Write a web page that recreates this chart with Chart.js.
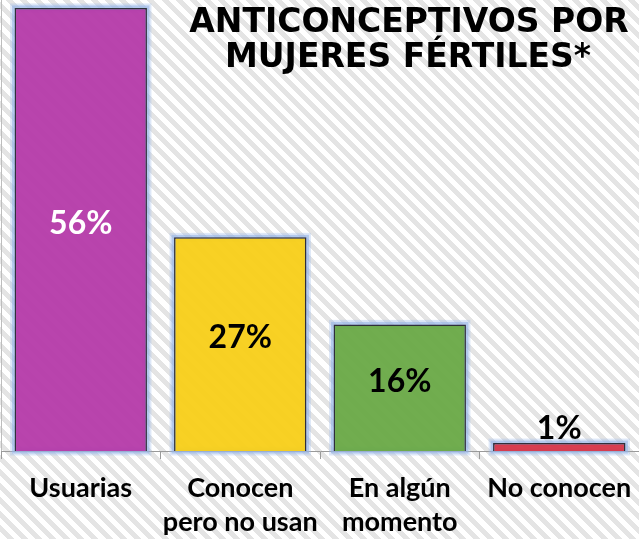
<!DOCTYPE html>
<html>
<head>
<meta charset="utf-8">
<script src="https://cdn.jsdelivr.net/npm/chart.js@4"></script>
<style>
  html, body { margin: 0; padding: 0; }
  body {
    width: 639px; height: 539px; overflow: hidden;
    background: repeating-linear-gradient(45deg, #ffffff 0px, #ffffff 5px, #e4e4e4 5px, #e4e4e4 10px);
  }
  #grafico { display: block; }
</style>
</head>
<body>
<canvas id="grafico" width="639" height="539"></canvas>
<script>
const categorias = ["Usuarias", ["Conocen", "pero no usan"], ["En algún", "momento"], "No conocen"];
const porcentajes = [56, 27, 16, 1];
const colores = ["rgba(181, 56, 168, 0.94)", "rgba(248, 206, 22, 0.94)", "rgba(104, 168, 68, 0.94)", "rgba(216, 52, 70, 0.94)"];
const coloresEtiqueta = ["#ffffff", "#000000", "#000000", "#000000"];
const titulo = ["ANTICONCEPTIVOS POR", "MUJERES FÉRTILES*"];

// brillo azul alrededor de las barras
const brillo = {
    id: "brillo",
    beforeDatasetsDraw(chart) {
        const c = chart.ctx;
        const meta = chart.getDatasetMeta(0);
        c.save();
        meta.data.forEach((barra) => {
            const izq = barra.x - barra.width / 2;
            const ancho = barra.width;
            const alto = barra.base - barra.y;
            c.strokeStyle = "rgba(160, 190, 235, 0.35)";
            c.lineWidth = 9;
            c.strokeRect(izq, barra.y, ancho, alto);
            c.strokeStyle = "rgba(150, 180, 230, 0.6)";
            c.lineWidth = 5;
            c.strokeRect(izq, barra.y, ancho, alto);
        });
        c.restore();
    },
};

// porcentajes dentro de las barras y titulo
const etiquetas = {
    id: "etiquetas",
    afterDraw(chart) {
        const c = chart.ctx;
        const meta = chart.getDatasetMeta(0);
        c.save();
        c.textAlign = "center";
        c.font = "bold 32px Lato";
        meta.data.forEach((barra, i) => {
            const v = porcentajes[i];
            c.fillStyle = coloresEtiqueta[i];
            if (v > 5) {
                c.textBaseline = "middle";
                c.fillText(v + "%", barra.x, (barra.y + barra.base) / 2 - 6);
            } else {
                c.textBaseline = "alphabetic";
                c.fillText(v + "%", barra.x, barra.y - 4);
            }
        });
        c.fillStyle = "#000000";
        c.font = "bold 33px 'DejaVu Sans'";
        c.textBaseline = "middle";
        c.fillText(titulo[0], 409, 23);
        c.fillText(titulo[1], 408, 58);
        c.restore();
    },
};

new Chart(document.getElementById("grafico"), {
    type: "bar",
    data: {
        labels: categorias,
        datasets: [
            {
                data: porcentajes,
                backgroundColor: colores,
                borderColor: "#2f2f3a",
                borderWidth: 1.5,
                categoryPercentage: 1,
                barPercentage: 0.83,
            },
        ],
    },
    options: {
        responsive: false,
        animation: false,
        devicePixelRatio: 1,
        layout: { padding: { left: 1, top: 0, right: -2, bottom: 0 } },
        plugins: {
            legend: { display: false },
            tooltip: { enabled: false },
        },
        scales: {
            y: {
                min: 0,
                max: 57,
                ticks: { display: false },
                grid: { display: false, drawTicks: false },
                border: { display: true, color: "#bdbdbd", width: 1 },
            },
            x: {
                afterFit: function (scale) {
                    scale.height = 88;
                    scale.paddingLeft = 0;
                    scale.paddingRight = 0;
                },
                ticks: {
                    color: "#000000",
                    font: { family: "Lato", size: 27, weight: "bold", lineHeight: 1.26 },
                    padding: 12,
                    maxRotation: 0,
                    autoSkip: false,
                },
                grid: { drawOnChartArea: false, drawTicks: true, tickLength: 8, color: "#9a9a9a" },
                border: { display: true, color: "#9a9a9a", width: 1 },
            },
        },
    },
    plugins: [brillo, etiquetas],
});
</script>
</body>
</html>
